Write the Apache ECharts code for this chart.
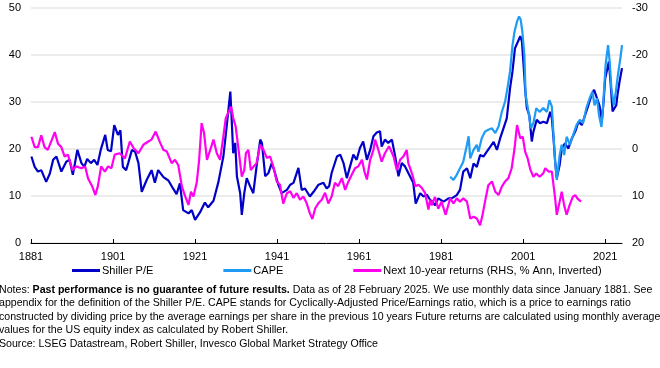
<!DOCTYPE html>
<html>
<head>
<meta charset="utf-8">
<script src="https://cdn.jsdelivr.net/npm/echarts@6/dist/echarts.min.js"></script>
<style>
  html, body { margin: 0; padding: 0; background: #fff; }
  #chart { width: 660px; height: 368px; }
</style>
</head>
<body>
<div id="chart"></div>
<script>
// ---- Data ----
var xTickYears = [1881, 1901, 1921, 1941, 1961, 1981, 2001, 2021];
var leftTicks = [0, 10, 20, 30, 40, 50];
var rightTicks = [-30, -20, -10, 0, 10, 20];

var seriesNames = ['Shiller P/E', 'CAPE', 'Next 10-year returns (RHS, % Ann, Inverted)'];

// Shiller P/E (left axis)
var peYears = [1881.1,1881.9,1882.7,1883.5,1884.7,1885.6,1886.4,1887.2,1888.4,1889.6,1890.4,1891.2,1892.3,1893.3,1894.0,1894.7,1895.6,1896.4,1897.2,1898.0,1899.1,1899.7,1900.5,1901.3,1902.2,1902.8,1903.4,1904.2,1904.7,1905.6,1906.4,1907.2,1908.0,1909.2,1910.4,1911.2,1912.0,1913.3,1914.5,1915.7,1916.5,1917.3,1918.1,1919.4,1920.2,1921.0,1922.2,1923.4,1924.2,1925.5,1926.7,1927.9,1928.7,1929.6,1929.9,1930.3,1930.8,1931.2,1932.0,1932.4,1933.0,1933.6,1934.4,1935.2,1936.0,1936.9,1937.3,1938.1,1938.9,1939.7,1940.5,1941.3,1942.1,1943.4,1944.2,1945.0,1946.2,1947.0,1947.8,1949.0,1949.9,1951.1,1952.3,1953.1,1953.7,1954.3,1955.6,1956.4,1957.2,1958.0,1958.8,1959.6,1960.4,1961.2,1962.0,1962.9,1963.7,1964.5,1965.3,1966.1,1966.5,1967.3,1968.1,1969.0,1969.8,1970.6,1971.4,1972.2,1973.4,1974.2,1974.8,1975.9,1976.7,1977.5,1978.3,1978.9,1979.5,1980.3,1981.6,1982.8,1983.6,1984.8,1985.6,1986.4,1987.3,1988.1,1988.9,1989.7,1990.5,1991.3,1992.1,1993.0,1993.8,1994.6,1995.4,1996.2,1997.0,1997.8,1998.4,1999.0,1999.9,2000.3,2000.7,2001.1,2001.5,2001.9,2002.5,2003.1,2003.5,2004.3,2005.1,2005.9,2006.8,2007.6,2008.0,2008.4,2008.8,2009.2,2009.9,2010.4,2011.2,2012.0,2012.9,2013.7,2014.5,2015.3,2016.1,2016.9,2017.8,2018.3,2019.0,2019.6,2020.2,2020.6,2021.0,2021.9,2022.3,2022.8,2023.2,2023.7,2024.0,2024.5,2025.1];
var peValues = [18.4,16.2,15.2,15.5,13.0,14.8,17.7,18.4,15.2,17.3,17.7,14.5,19.8,17.0,16.2,17.9,17.0,17.7,16.6,19.8,23.0,19.8,19.5,25.1,23.0,24.0,16.2,15.5,17.0,19.8,19.4,17.0,10.9,13.4,15.5,12.8,15.5,14.0,13.3,11.5,10.4,12.7,7.0,6.3,7.0,4.9,6.5,8.6,7.6,9.0,13.0,18.4,24.7,32.2,26.9,19.1,21.3,14.2,10.6,6.0,10.6,13.8,12.1,10.6,16.3,22.0,21.3,14.2,14.9,17.0,14.9,12.4,10.6,11.3,12.4,12.8,16.0,11.3,11.6,9.9,10.9,12.4,12.8,11.6,12.1,14.9,18.4,18.8,17.0,13.8,16.3,18.8,17.7,20.2,21.6,17.7,19.8,22.7,23.5,23.8,20.5,22.0,21.3,22.0,18.4,14.2,17.0,16.3,14.2,12.8,8.4,10.6,9.9,10.3,9.2,8.8,8.0,9.5,8.8,9.5,9.5,10.2,11.3,15.2,15.9,13.8,16.9,16.2,18.7,18.4,19.4,20.5,21.5,19.8,22.3,24.4,26.5,32.9,36.5,41.4,43.2,44.0,42.9,37.9,32.6,28.7,27.2,21.6,23.7,26.2,25.5,25.8,25.5,27.9,26.5,22.3,17.3,13.8,16.6,20.1,21.2,20.1,22.3,23.7,25.8,25.1,27.2,29.3,31.8,32.6,30.8,29.3,26.0,30.0,35.0,38.6,34.3,28.0,28.0,29.3,31.5,34.3,37.2];

// CAPE (left axis)
var capeYears = [1983.2,1984.0,1984.8,1985.6,1986.4,1987.3,1987.7,1988.1,1988.9,1989.7,1990.1,1990.9,1991.7,1992.5,1993.4,1994.2,1995.0,1995.8,1996.6,1997.3,1997.8,1998.4,1998.9,1999.5,2000.0,2000.4,2000.8,2001.3,2001.6,2002.2,2002.9,2003.5,2004.2,2005.0,2005.9,2006.8,2007.4,2008.0,2008.4,2008.8,2009.2,2009.9,2010.4,2011.0,2011.6,2012.4,2013.2,2014.0,2014.8,2015.6,2016.4,2017.2,2017.9,2018.4,2019.0,2019.5,2020.1,2020.5,2021.1,2021.7,2022.1,2022.5,2023.1,2023.6,2024.1,2024.7,2025.1];
var capeValues = [14.1,13.4,14.5,15.9,17.3,20.9,22.7,18.0,19.8,20.9,19.4,22.3,23.7,24.1,24.4,23.4,24.8,27.9,30.1,33.6,36.5,42.1,45.0,47.1,48.2,47.5,45.0,40.0,31.5,28.4,24.4,25.5,28.7,27.9,28.7,27.9,30.4,29.0,23.0,17.3,13.4,18.7,20.9,18.7,22.6,20.9,23.0,25.1,26.2,25.5,28.7,30.8,32.2,29.3,30.8,27.2,24.7,29.3,37.9,42.1,38.6,33.0,29.3,32.2,35.7,39.3,42.1];

// Next 10-year returns (% Ann, right axis, inverted)
var retYears = [1881.1,1881.9,1882.7,1883.5,1884.3,1885.1,1886.0,1886.8,1887.6,1888.4,1889.2,1890.0,1890.4,1891.1,1892.0,1893.3,1894.2,1894.9,1895.9,1896.7,1897.3,1898.1,1899.0,1899.8,1900.6,1901.4,1902.6,1903.9,1905.1,1906.0,1907.2,1908.4,1909.6,1910.4,1911.4,1912.5,1913.3,1914.1,1915.3,1916.1,1916.9,1917.8,1918.6,1919.4,1920.0,1920.6,1921.4,1922.0,1922.6,1923.2,1923.9,1924.7,1925.5,1926.3,1927.1,1927.9,1928.5,1929.1,1929.8,1930.3,1930.9,1931.5,1932.4,1933.0,1933.4,1934.0,1934.6,1935.2,1936.0,1936.9,1937.7,1938.5,1939.3,1940.1,1940.9,1941.7,1942.5,1943.4,1944.2,1945.0,1945.8,1946.6,1947.4,1948.2,1949.0,1949.6,1950.3,1951.1,1951.9,1952.7,1953.5,1954.3,1955.1,1955.9,1956.8,1957.6,1958.4,1959.2,1960.0,1960.8,1961.7,1962.3,1962.9,1963.7,1964.5,1964.9,1965.7,1966.5,1967.3,1968.3,1969.4,1970.2,1971.0,1971.8,1972.6,1973.0,1974.0,1974.7,1975.5,1976.3,1977.1,1977.9,1978.3,1978.7,1979.5,1980.3,1981.1,1982.1,1983.2,1984.0,1984.8,1985.6,1986.4,1987.3,1988.1,1988.9,1989.7,1990.5,1991.1,1991.7,1992.5,1993.4,1994.2,1995.0,1995.8,1996.6,1997.4,1998.2,1998.9,1999.5,2000.3,2000.9,2001.5,2002.1,2002.8,2003.5,2004.2,2005.0,2005.9,2006.4,2007.2,2008.0,2008.4,2008.8,2009.2,2009.9,2010.4,2011.0,2011.6,2012.3,2013.1,2013.7,2014.2,2015.1];
var retValues = [-2.6,-0.4,-0.4,-2.9,-0.4,0.2,-1.8,-3.6,-1.1,-0.4,1.6,1.2,0.9,4.5,3.7,4.1,3.7,6.2,7.9,9.8,7.9,3.7,4.8,3.7,4.1,1.2,0.9,2.0,-1.6,-0.2,0.9,-0.9,-1.6,-2.0,-3.7,-1.3,0.2,0.5,3.0,2.3,3.4,8.0,10.1,11.9,9.1,10.1,7.2,2.3,-5.5,-3.4,2.3,0.2,-2.0,0.9,2.3,-2.7,-6.6,-7.7,-9.0,-6.6,-4.8,-0.6,5.9,4.5,0.9,0.2,4.5,3.8,3.0,-0.9,0.2,1.9,1.6,3.8,6.9,7.6,11.6,9.4,9.0,10.4,9.4,10.8,10.1,11.5,13.7,14.9,12.6,11.5,10.8,9.3,11.6,10.1,7.2,7.9,6.2,8.7,6.9,5.5,4.1,3.7,2.3,4.8,6.5,2.3,0.2,-2.0,0.2,2.7,0.9,-0.6,1.6,4.5,2.3,1.6,0.2,3.0,5.5,7.9,7.6,8.3,9.4,12.9,10.8,12.0,10.2,12.7,11.2,14.0,10.5,11.6,10.5,11.2,10.5,11.2,14.8,14.4,14.8,16.2,14.0,11.2,7.7,6.9,9.1,9.8,8.0,6.9,6.2,4.1,-0.1,-5.1,-2.3,-2.6,0.6,2.0,4.5,5.9,5.2,5.9,5.2,4.1,4.8,4.8,7.7,10.5,14.0,11.2,9.1,12.0,14.0,12.0,10.2,9.8,10.5,11.2];

var noteLines = [
  ['Notes: ', 'Past performance is no guarantee of future results.', ' Data as of 28 February 2025. We use monthly data since January 1881. See'],
  ['appendix for the definition of the Shiller P/E. CAPE stands for Cyclically-Adjusted Price/Earnings ratio, which is a price to earnings ratio'],
  ['constructed by dividing price by the average earnings per share in the previous 10 years Future returns are calculated using monthly average'],
  ['values for the US equity index as calculated by Robert Shiller.'],
  ['Source: LSEG Datastream, Robert Shiller, Invesco Global Market Strategy Office']
];

// ---- Build ----
function pairs(xs, ys) { return xs.map(function (x, i) { return [x, ys[i]]; }); }

var FONT = '"Liberation Sans", Arial, Helvetica, sans-serif';
var colors = ['#0000C8', '#1E9BF5', '#FF00F0'];

var notesText = noteLines.map(function (ln) {
  if (ln.length === 3) return '{n|' + ln[0] + '}{b|' + ln[1] + '}{n|' + ln[2] + '}';
  return '{n|' + ln[0] + '}';
}).join('\n');

var chart = echarts.init(document.getElementById('chart'), null, { renderer: 'canvas' });
chart.setOption({
  animation: false,
  backgroundColor: '#ffffff',
  color: colors,
  textStyle: { fontFamily: FONT },
  title: {
    left: -1, top: 283, padding: 0,
    text: notesText,
    textStyle: {
      fontFamily: FONT, fontSize: 10.6, fontWeight: 'normal', color: '#000', lineHeight: 13.5,
      rich: {
        n: { fontFamily: FONT, fontSize: 10.6, fontWeight: 'normal', color: '#000', lineHeight: 13.5 },
        b: { fontFamily: FONT, fontSize: 10.6, fontWeight: 'bold', color: '#000', lineHeight: 13.5 }
      }
    }
  },
  legend: {
    left: 72, top: 265, itemGap: 70, itemWidth: 28, itemHeight: 3, icon: 'rect',
    padding: 0,
    data: seriesNames,
    textStyle: { fontFamily: FONT, fontSize: 11, color: '#000', padding: [0, 0, 0, -3] }
  },
  grid: { left: 31, right: 38, top: 8, bottom: 125, containLabel: false },
  xAxis: {
    type: 'value', min: 1881, max: 2025.1,
    axisLine: { show: true, lineStyle: { color: '#000', width: 1 } },
    axisTick: { show: true, inside: true, length: 4, customValues: xTickYears, lineStyle: { color: '#000' } },
    axisLabel: { customValues: xTickYears, color: '#000', fontFamily: FONT, fontSize: 11, margin: 8,
      formatter: function (v) { return String(Math.round(v)); } },
    splitLine: { show: false }
  },
  yAxis: [
    {
      type: 'value', min: leftTicks[0], max: leftTicks[leftTicks.length - 1], interval: 10,
      axisLine: { show: false }, axisTick: { show: false },
      axisLabel: { color: '#000', fontFamily: FONT, fontSize: 11, margin: 10 },
      splitLine: { show: true, lineStyle: { color: '#e6e6e6', width: 1.5 } }
    },
    {
      type: 'value', min: rightTicks[0], max: rightTicks[rightTicks.length - 1], interval: 10, inverse: true,
      axisLine: { show: false }, axisTick: { show: false },
      axisLabel: { color: '#000', fontFamily: FONT, fontSize: 11, margin: 10 },
      splitLine: { show: false }
    }
  ],
  series: [
    { name: seriesNames[0], type: 'line', yAxisIndex: 0, symbol: 'none', data: pairs(peYears, peValues),
      lineStyle: { width: 2.2, color: colors[0] }, itemStyle: { color: colors[0] } },
    { name: seriesNames[1], type: 'line', yAxisIndex: 0, symbol: 'none', data: pairs(capeYears, capeValues),
      lineStyle: { width: 2.2, color: colors[1] }, itemStyle: { color: colors[1] } },
    { name: seriesNames[2], type: 'line', yAxisIndex: 1, symbol: 'none', data: pairs(retYears, retValues),
      lineStyle: { width: 2.2, color: colors[2] }, itemStyle: { color: colors[2] } }
  ]
});
</script>
</body>
</html>
